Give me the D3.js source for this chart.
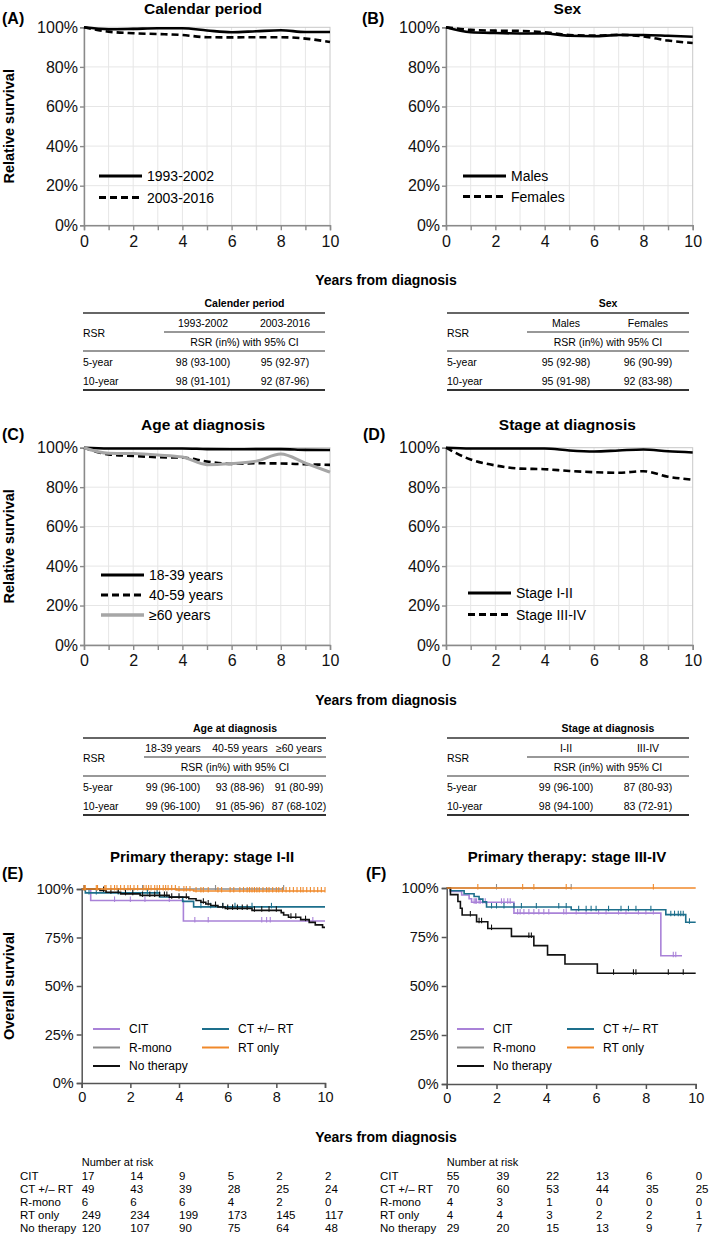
<!DOCTYPE html>
<html><head><meta charset="utf-8">
<script src="https://cdn.jsdelivr.net/npm/d3@7"></script>
<style>
body{margin:0;background:#fff}
svg{display:block}
text{font-family:"Liberation Sans",Arial,Helvetica,sans-serif}
</style>
</head><body>
<svg id="c" width="709" height="1236"></svg>
<script>
// ---------------- DATA ----------------
const years = [0,1,2,3,4,5,6,7,8,9,10];
const pctTicks = [0,20,40,60,80,100];
const kmTicksY = [0,25,50,75,100];
const kmTicksX = [0,2,4,6,8,10];

// Panel A: calendar period
const cal9302 = [100,99.0,99.2,99.5,99.5,98.4,97.5,98.0,98.5,97.6,97.6];
const cal0316 = [100,97.8,97.0,96.6,96.1,95.0,94.9,95.0,95.0,94.3,92.6];
// Panel B: sex
const males   = [100,97.5,97.1,96.9,96.9,95.7,95.5,96.1,96.1,95.7,95.2];
const females = [100,98.7,98.3,98.2,97.5,96.1,95.8,96.2,95.4,93.3,92.1];
// Panel C: age
const age1839 = [100,99.6,99.6,99.6,99.6,99.3,99.2,99.3,99.3,98.9,98.8];
const age4059 = [100,96.6,95.8,95.2,95.0,93.0,91.8,92.1,92.0,91.6,91.3];
const age60   = [100,97.2,97.0,96.3,95.3,91.4,92.0,93.2,96.8,92.2,87.6];
// Panel D: stage
const stage12 = [100,99.6,99.6,99.6,99.6,98.6,98.1,98.6,99.1,98.2,97.6];
const stage34 = [100,94.0,91.0,89.4,89.1,88.2,87.6,87.3,88.1,85.3,83.8];

// RSR tables
const tabAtitle = "Calender period", tabAcols = ["1993-2002","2003-2016"];
const tabA5 = ["98 (93-100)","95 (92-97)"], tabA10 = ["98 (91-101)","92 (87-96)"];
const tabBtitle = "Sex", tabBcols = ["Males","Females"];
const tabB5 = ["95 (92-98)","96 (90-99)"], tabB10 = ["95 (91-98)","92 (83-98)"];
const tabCtitle = "Age at diagnosis", tabCcols = ["18-39 years","40-59 years","\u226560 years"];
const tabC5 = ["99 (96-100)","93 (88-96)","91 (80-99)"], tabC10 = ["99 (96-100)","91 (85-96)","87 (68-102)"];
const tabDtitle = "Stage at diagnosis", tabDcols = ["I-II","III-IV"];
const tabD5 = ["99 (96-100)","87 (80-93)"], tabD10 = ["98 (94-100)","83 (72-91)"];

// Panel E: KM stage I-II
const eCitT = [0.37,4.18], eCitS = [94.1,83.5], eCitEnd = 10;
const eCitC = [1.35,2.0,2.6,3.6,4.65,5.2,7.4,7.6,7.75,9.5];
const eCtT = [0.15,3.2,4.15,4.6], eCtS = [98.0,95.9,93.6,90.8], eCtEnd = 10;
const eCtC = [0.3,0.6,1.5,2.7,3.1,4.9,5.3,5.8,6.3,7.0,7.8];
const eRmT = [], eRmS = [], eRmEnd = 8.3, eRmC = [2.5,5.5,8.3];
const eRtT = [3.9,4.6], eRtS = [99.5,99.0], eRtEnd = 10;
const eRtC = [0.1,0.15,0.6,0.65,0.95,1.0,1.2,1.35,1.45,1.6,1.75,1.9,2.0,2.15,2.3,2.55,2.65,2.75,2.85,3.0,3.1,3.2,3.35,3.45,3.55,3.7,3.85,4.0,4.2,4.3,4.45,4.7,4.9,5.0,5.2,5.6,5.75,6.1,6.25,6.5,6.65,6.8,6.9,7.0,7.1,7.2,7.3,7.45,7.6,7.7,7.85,8.0,8.1,8.25,8.4,8.55,8.7,8.85,9.0,9.1,9.25,9.4,9.55,9.7,9.85,10.0];
const eNoT = [0.75,1.0,1.6,2.4,3.6,4.4,4.7,4.9,5.1,5.3,5.6,5.9,7.0,8.2,8.3,8.5,9.0,9.35,9.6,9.9];
const eNoS = [99.2,98.3,97.5,96.7,95.8,95.0,94.1,93.2,92.3,91.5,90.7,90.0,89.0,87.8,86.6,85.4,84.2,82.8,81.5,80.2];
const eNoEnd = 10;
const eNoC = [0.1,0.9,1.2,1.5,1.8,2.1,2.5,2.8,3.0,3.2,3.4,3.5,3.7,4.0,4.3,5.0,5.2,5.5,5.8,6.0,6.2,6.4,6.6,6.8,7.1,7.4,7.7,8.0,8.6,8.8,9.2];

// Panel F: KM stage III-IV
const fCitT = [0.15,0.6,0.9,1.0,2.7,8.6], fCitS = [98.2,96.4,94.5,92.7,87.2,65.4], fCitEnd = 9.45;
const fCitC = [1.1,1.15,1.2,1.3,1.35,1.45,1.55,2.2,2.3,2.45,2.55,2.85,2.95,3.1,3.3,3.5,3.7,3.9,4.1,4.7,4.8,5.2,5.6,6.1,6.4,6.9,7.2,7.7,8.0,8.3,9.1,9.2];
const fCtT = [0.15,0.7,1.1,1.3,1.45,1.6,5.0,8.8,9.6], fCtS = [98.6,97.1,95.7,94.3,92.9,90.3,88.9,86.4,82.5], fCtEnd = 10;
const fCtC = [1.8,2.0,2.3,2.7,3.0,3.6,4.5,4.8,5.3,5.6,5.8,6.0,6.5,7.0,7.3,7.6,8.2,9.0,9.15,9.3,9.4,9.5,9.75];
const fRmT = [], fRmS = [], fRmEnd = 5.0, fRmC = [2.0,5.0];
const fRtT = [], fRtS = [], fRtEnd = 10, fRtC = [1.25,3.05,3.5,4.8,8.3];
const fNoT = [0.15,0.45,0.55,0.62,1.2,1.65,2.6,3.5,4.05,4.75,6.05];
const fNoS = [96.6,93.1,89.7,86.2,82.8,79.3,75.3,70.6,65.9,61.2,56.5];
const fNoEnd = 10, fNoC = [0.95,1.3,1.4,1.8,3.3,3.4,6.7,7.5,7.6,8.9,9.5];

// Number at risk
const riskLabels = ["CIT","CT +/\u2013 RT","R-mono","RT only","No therapy"];
const riskE = [[17,14,9,5,2,2],[49,43,39,28,25,24],[6,6,6,4,2,0],[249,234,199,173,145,117],[120,107,90,75,64,48]];
const riskF = [[55,39,22,13,6,0],[70,60,53,44,35,25],[4,3,1,0,0,0],[4,4,3,2,2,1],[29,20,15,13,9,7]];
const kmLegend = ["CIT","CT +/\u2013 RT","R-mono","RT only","No therapy"];

// ---------------- DRAWING ----------------
const FONT = '"Liberation Sans",Arial,Helvetica,sans-serif';
const svg = d3.select("#c");
const cPurple="#a982d8", cTeal="#1d6f8c", cOrange="#f0892a", cGray="#8c8c8c", cBlack="#111111";

function txt(g,x,y,s,o={}){
  return g.append("text").attr("x",x).attr("y",y).text(s)
    .attr("font-size",o.size||12).attr("font-weight",o.weight||"normal")
    .attr("text-anchor",o.anchor||"start").attr("dominant-baseline","central")
    .attr("fill",o.fill||"#000");
}

function styleAxis(a,size,col,w){
  a.attr("font-family",FONT).attr("font-size",size);
  a.select(".domain").attr("stroke",col).attr("stroke-width",w);
  a.selectAll(".tick line").attr("stroke",col).attr("stroke-width",w);
  a.selectAll(".tick text").attr("fill","#111");
}

function rsPanel(cfg){
  const g = svg.append("g");
  const x = d3.scaleLinear().domain([0,10]).range([cfg.x0,cfg.x1]);
  const y = d3.scaleLinear().domain([0,100]).range([cfg.yb,cfg.yt]);
  g.append("g").selectAll("line").data(years.slice(1,10)).join("line")
    .attr("x1",d=>x(d)).attr("x2",d=>x(d)).attr("y1",y(0)).attr("y2",y(100))
    .attr("stroke","#e6e6e6").attr("stroke-width",1);
  g.append("g").selectAll("line").data(pctTicks.slice(1,5)).join("line")
    .attr("x1",x(0)).attr("x2",x(10)).attr("y1",d=>y(d)).attr("y2",d=>y(d))
    .attr("stroke","#e6e6e6").attr("stroke-width",1);
  g.append("rect").attr("x",x(0)).attr("y",y(100)).attr("width",x(10)-x(0)).attr("height",y(0)-y(100))
    .attr("fill","none").attr("stroke","#c8c8c8").attr("stroke-width",1);
  const ax = g.append("g").attr("transform",`translate(0,${y(0)})`)
    .call(d3.axisBottom(x).tickValues(years).tickSize(5).tickPadding(5).tickFormat(d=>d%2===0?d:""));
  styleAxis(ax,16,"#8a8a8a",1.4);
  const ay = g.append("g").attr("transform",`translate(${x(0)},0)`)
    .call(d3.axisLeft(y).tickValues(pctTicks).tickSize(4).tickPadding(2).tickFormat(d=>d+"%"));
  styleAxis(ay,16,"#8a8a8a",1.4);
  const line = d3.line().x((d,i)=>x(years[i])).y(d=>y(d)).curve(d3.curveMonotoneX);
  cfg.series.forEach(s=>{
    g.append("path").attr("d",line(s.v)).attr("fill","none").attr("stroke",s.color)
      .attr("stroke-width",s.w).attr("stroke-dasharray",s.dash||null);
  });
  cfg.series.forEach((s,i)=>{
    const ly = cfg.ly + i*cfg.ldy;
    g.append("line").attr("x1",cfg.lx).attr("x2",cfg.lx+43).attr("y1",ly).attr("y2",ly)
      .attr("stroke",s.color).attr("stroke-width",s.w+0.3).attr("stroke-dasharray",s.dash||null);
    txt(g,cfg.lx+48,ly,s.name,{size:14});
  });
  txt(g,(cfg.x0+cfg.x1)/2+cfg.tdx,cfg.ty,cfg.title,{size:15.5,weight:"bold",anchor:"middle"});
  txt(g,cfg.labx,cfg.ty+10,cfg.lab,{size:16,weight:"bold"});
  if(cfg.ylab){
    g.append("text").attr("transform",`translate(9,${(y(0)+y(100))/2}) rotate(-90)`)
      .attr("text-anchor","middle").attr("dominant-baseline","central")
      .attr("font-size",14.5).attr("font-weight","bold").text(cfg.ylab);
  }
}

const yAt=27.3, yAb=225.3, yCt=447.7, yCb=645;
rsPanel({x0:84,x1:330,yt:yAt,yb:yAb,title:"Calendar period",tdx:-4,ty:8,lab:"(A)",labx:2,ylab:"Relative survival",
  lx:99,ly:176,ldy:21.5,series:[
    {name:"1993-2002",v:cal9302,color:"#000",w:2.6},
    {name:"2003-2016",v:cal0316,color:"#000",w:2.6,dash:"7,4"}]});
rsPanel({x0:446,x1:692.7,yt:yAt,yb:yAb,title:"Sex",tdx:-2,ty:8,lab:"(B)",labx:362,
  lx:463,ly:176,ldy:20.5,series:[
    {name:"Males",v:males,color:"#000",w:2.6},
    {name:"Females",v:females,color:"#000",w:2.6,dash:"7,4"}]});
rsPanel({x0:84,x1:330,yt:yCt,yb:yCb,title:"Age at diagnosis",tdx:-4,ty:424,lab:"(C)",labx:2,ylab:"Relative survival",
  lx:101,ly:575,ldy:20,series:[
    {name:"18-39 years",v:age1839,color:"#000",w:2.6},
    {name:"40-59 years",v:age4059,color:"#000",w:2.6,dash:"7,4"},
    {name:"\u226560 years",v:age60,color:"#a6a6a6",w:3}]});
rsPanel({x0:446,x1:692.7,yt:yCt,yb:yCb,title:"Stage at diagnosis",tdx:-2,ty:424,lab:"(D)",labx:363,
  lx:468,ly:593,ldy:21.5,series:[
    {name:"Stage I-II",v:stage12,color:"#000",w:2.6},
    {name:"Stage III-IV",v:stage34,color:"#000",w:2.6,dash:"7,4"}]});

// x-axis titles
[280,700,1137].forEach(yy=>txt(svg,386,yy,"Years from diagnosis",{size:14,weight:"bold",anchor:"middle"}));

// ----- tables -----
function rsrTable(cfg){
  const g = svg.append("g"), b = cfg.base, fs = 10.5;
  const subC = (cfg.sub+cfg.x1)/2;
  txt(g,subC,b,cfg.title,{size:fs,weight:"bold",anchor:"middle"});
  const hl=(x0,x1,yy,w)=>g.append("line").attr("x1",x0).attr("x2",x1).attr("y1",yy).attr("y2",yy).attr("stroke","#333").attr("stroke-width",w);
  hl(cfg.x0,cfg.x1,b+10,1.4);
  cfg.cols.forEach((c,i)=>txt(g,cfg.cx[i],b+20,c,{size:fs,anchor:"middle"}));
  hl(cfg.sub,cfg.x1,b+29,1.2);
  txt(g,subC,b+39,"RSR (in%) with 95% CI",{size:fs,anchor:"middle"});
  hl(cfg.x0,cfg.x1,b+48,1.2);
  txt(g,cfg.x0,b+29.5,"RSR",{size:fs});
  txt(g,cfg.x0,b+59,"5-year",{size:fs});
  txt(g,cfg.x0,b+78,"10-year",{size:fs});
  cfg.r5.forEach((c,i)=>txt(g,cfg.cx[i],b+59,c,{size:fs,anchor:"middle"}));
  cfg.r10.forEach((c,i)=>txt(g,cfg.cx[i],b+78,c,{size:fs,anchor:"middle"}));
  hl(cfg.x0,cfg.x1,b+87,1.8);
}
rsrTable({base:303,x0:83,x1:325,sub:164,cx:[203,285],title:tabAtitle,cols:tabAcols,r5:tabA5,r10:tabA10});
rsrTable({base:303,x0:447,x1:689,sub:527,cx:[566,648],title:tabBtitle,cols:tabBcols,r5:tabB5,r10:tabB10});
rsrTable({base:728,x0:83,x1:326,sub:144,cx:[173,240,299],title:tabCtitle,cols:tabCcols,r5:tabC5,r10:tabC10});
rsrTable({base:728,x0:447,x1:689,sub:527,cx:[566,648],title:tabDtitle,cols:tabDcols,r5:tabD5,r10:tabD10});

// ----- KM panels -----
function kmPanel(cfg){
  const g = svg.append("g");
  const x = d3.scaleLinear().domain([0,10]).range([cfg.x0,cfg.x1]);
  const y = d3.scaleLinear().domain([0,100]).range([cfg.yb,cfg.yt]);
  const ay = g.append("g").attr("transform",`translate(${x(0)},0)`)
    .call(d3.axisLeft(y).tickValues(kmTicksY).tickSize(5).tickPadding(3).tickFormat(d=>d+"%"));
  styleAxis(ay,14.5,"#555",1.5);
  const ax = g.append("g").attr("transform",`translate(0,${y(0)})`)
    .call(d3.axisBottom(x).tickValues(kmTicksX).tickSize(5).tickPadding(4));
  styleAxis(ax,14.5,"#555",1.5);
  const line = d3.line().x(d=>x(d[0])).y(d=>y(d[1])).curve(d3.curveStepAfter);
  cfg.series.forEach(s=>{
    const pts=[[0,100]];
    s.t.forEach((t,i)=>pts.push([t,s.s[i]]));
    pts.push([s.end, s.s.length? s.s[s.s.length-1]:100]);
    g.append("path").attr("d",line(pts)).attr("fill","none").attr("stroke",s.color).attr("stroke-width",1.6);
    const surv = c=>{let v=100; s.t.forEach((t,i)=>{if(t<=c) v=s.s[i];}); return v;};
    g.append("g").selectAll("line").data(s.c).join("line")
      .attr("x1",d=>x(d)).attr("x2",d=>x(d)).attr("y1",d=>y(surv(d))-4).attr("y2",d=>y(surv(d))+1.5)
      .attr("stroke",s.color).attr("stroke-width",1.1);
  });
  // legend
  const legColors = [cPurple,cTeal,cGray,cOrange,cBlack];
  kmLegend.forEach((n,i)=>{
    const col=i%2, row=Math.floor(i/2);
    const lx = cfg.lx[col], ly = cfg.ly + row*18.5;
    g.append("line").attr("x1",lx).attr("x2",lx+27).attr("y1",ly).attr("y2",ly).attr("stroke",legColors[i]).attr("stroke-width",2);
    txt(g,lx+36,ly,n,{size:12});
  });
  txt(g,cfg.tx,cfg.ty,cfg.title,{size:15,weight:"bold",anchor:"middle"});
  txt(g,cfg.labx,cfg.ty+17,cfg.lab,{size:16,weight:"bold"});
  if(cfg.ylab){
    g.append("text").attr("transform",`translate(9,${(y(0)+y(100))/2}) rotate(-90)`)
      .attr("text-anchor","middle").attr("dominant-baseline","central")
      .attr("font-size",14.5).attr("font-weight","bold").text(cfg.ylab);
  }
  // risk table
  const rt = svg.append("g");
  txt(rt,x(0),1162,"Number at risk",{size:11});
  riskLabels.forEach((lab,i)=>{
    const yy = 1176+i*13;
    txt(rt,cfg.rlx,yy,lab,{size:11.5});
    cfg.risk[i].forEach((v,j)=>txt(rt,x(kmTicksX[j]),yy,v,{size:11.5}));
  });
}
kmPanel({x0:81.7,x1:325,yt:889,yb:1083,title:"Primary therapy: stage I-II",tx:202,ty:856,lab:"(E)",labx:2,
  ylab:"Overall survival",lx:[93,202],ly:1029,rlx:20,risk:riskE,series:[
  {t:eRmT,s:eRmS,end:eRmEnd,c:eRmC,color:cGray},
  {t:eCitT,s:eCitS,end:eCitEnd,c:eCitC,color:cPurple},
  {t:eCtT,s:eCtS,end:eCtEnd,c:eCtC,color:cTeal},
  {t:eNoT,s:eNoS,end:eNoEnd,c:eNoC,color:cBlack},
  {t:eRtT,s:eRtS,end:eRtEnd,c:eRtC,color:cOrange}]});
kmPanel({x0:446.7,x1:695.7,yt:888,yb:1084,title:"Primary therapy: stage III-IV",tx:567,ty:856,lab:"(F)",labx:366,
  lx:[457,567],ly:1029,rlx:380,risk:riskF,series:[
  {t:fRmT,s:fRmS,end:fRmEnd,c:fRmC,color:cGray},
  {t:fCitT,s:fCitS,end:fCitEnd,c:fCitC,color:cPurple},
  {t:fCtT,s:fCtS,end:fCtEnd,c:fCtC,color:cTeal},
  {t:fNoT,s:fNoS,end:fNoEnd,c:fNoC,color:cBlack},
  {t:fRtT,s:fRtS,end:fRtEnd,c:fRtC,color:cOrange}]});
</script>
</body></html>
